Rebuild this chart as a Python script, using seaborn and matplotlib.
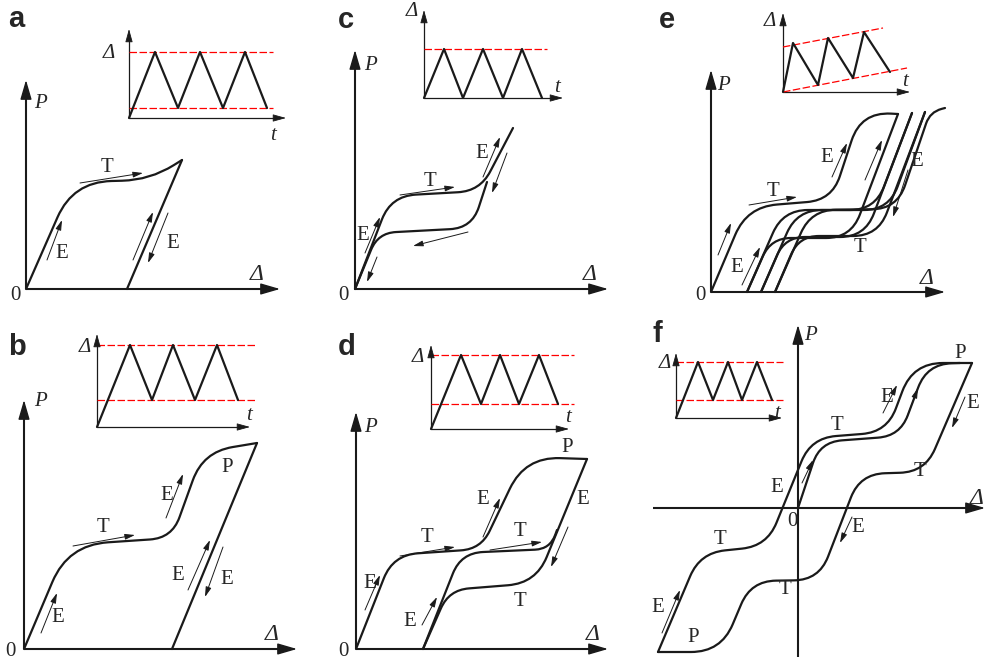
import numpy as np
import matplotlib
matplotlib.use("Agg")
import matplotlib.pyplot as plt
from matplotlib.path import Path
from matplotlib.patches import PathPatch
import seaborn as sns

W, H = 987, 662

# ---- panel a ----
a_origin = (26, 289)
a_axes = ((0, 254), (0, 209))
a_P, a_D, a_zero = (14, 186), (231, 14), (-11, -6)
a_curves = [[(0, 0), (47, 107), (124, 109), (156, 129)],
            [(156, 129), (101, 0)]]
a_radii = [[40, 28], []]
a_text = [("T", 81, 121), ("E", 36, 36), ("E", 147, 46)]
a_arrows = [(54, 106, 117, 116), (21, 29, 36, 69), (107, 29, 127, 77), (142, 76, 122, 26)]
a_in_origin = (129, 118)
a_in_axes = (157, 89)
a_in_D, a_in_t = (-20, 65), (144, -17)
a_wave_t = [0, 26, 49, 71, 94, 116, 138]
a_wave_d = [0, 66, 10, 66, 10, 66, 10]
a_levels = [[(0, 66), (144, 66)], [(0, 10), (144, 10)]]

# ---- panel b ----
b_origin = (24, 649)
b_axes = ((0, 273), (0, 249))
b_P, b_D, b_zero = (16, 247), (248, 14), (-14, -2)
b_curves = [[(0, 0), (44, 104), (148, 111), (179, 197), (233, 206)],
            [(233, 206), (148, 0)]]
b_radii = [[40, 22, 30], []]
b_text = [("T", 79, 122), ("E", 34, 31), ("E", 143, 154), ("P", 203, 181),
          ("E", 154, 74), ("E", 203, 69)]
b_arrows = [(49, 103, 111, 114), (17, 16, 33, 56), (142, 131, 159, 175),
            (164, 59, 186, 109), (199, 102, 181, 52)]
b_in_origin = (97, 427)
b_in_axes = (153, 93)
b_in_D, b_in_t = (-12, 80), (152, 12)
b_wave_t = [0, 33, 55, 76, 98, 120, 141]
b_wave_d = [0, 82, 27, 82, 27, 82, 27]
b_levels = [[(0, 82), (159, 82)], [(0, 27), (159, 27)]]

# ---- panel c ----
c_origin = (355, 289)
c_axes = ((0, 253), (0, 239))
c_P, c_D, c_zero = (15, 224), (235, 14), (-12, -7)
c_curves = [[(0, 0), (36, 93), (125, 98), (158, 161)],
            [(132, 107), (117, 61), (23, 56), (0, 0)]]
c_radii = [[25, 22], [22, 18]]
c_text = [("T", 75, 107), ("E", 8, 54), ("E", 127, 136)]
c_arrows = [(45, 94, 100, 102), (113, 57, 58, 43), (10, 36, 25, 72), (22, 32, 12, 7),
            (128, 112, 145, 152), (152, 136, 137, 96)]
c_in_origin = (424, 98)
c_in_axes = (139, 88)
c_in_D, c_in_t = (-12, 86), (133, 11)
c_wave_t = [0, 20, 39, 59, 79, 98, 118]
c_wave_d = [0, 49, 0, 49, 0, 49, 0]
c_levels = [[(0, 49), (123, 49)]]

# ---- panel d ----
d_origin = (356, 649)
d_axes = ((0, 252), (0, 237))
d_P, d_D, d_zero = (14, 222), (237, 14), (-13, -2)
d_curves = [[(0, 0), (37, 94), (125, 100), (169, 192), (231, 190)],
            [(231, 190), (180, 66), (93, 59), (67, 0)],
            [(67, 0), (105, 96), (194, 100), (201, 119)]]
d_radii = [[25, 20, 35], [28, 20], [22, 15]]
d_text = [("E", 14, 66), ("T", 71, 112), ("E", 127, 149), ("T", 164, 117), ("P", 211, 202),
          ("E", 227, 149), ("T", 164, 47), ("E", 54, 27)]
d_arrows = [(9, 39, 24, 74), (44, 93, 99, 102), (127, 112, 144, 151), (134, 99, 186, 107),
            (212, 122, 195, 82), (66, 24, 81, 52)]
d_in_origin = (431, 429)
d_in_axes = (138, 84)
d_in_D, d_in_t = (-13, 72), (137, 12)
d_wave_t = [0, 30, 50, 69, 88, 108, 127]
d_wave_d = [0, 74, 25, 74, 25, 74, 25]
d_levels = [[(0, 74), (143, 74)], [(0, 25), (143, 25)]]

# ---- panel e ----
e_origin = (711, 292)
e_axes = ((0, 234), (0, 222))
e_P, e_D, e_zero = (12, 207), (216, 14), (-11, -4)
e_curves = [[(0, 0), (36, 85), (121, 92), (150, 180), (187, 178)],
            [(187, 178), (140, 54), (60, 54), (36, 0)],
            [(36, 0), (72, 82), (164, 82), (201, 179)],
            [(201, 179), (154, 55), (74, 55), (50, 0)],
            [(50, 0), (86, 82), (178, 82), (214, 180)],
            [(214, 180), (167, 56), (88, 56), (64, 0)],
            [(64, 0), (100, 82), (186, 83), (219, 180), (234, 184)]]
e_radii = [[30, 25, 30], [25, 20], [25, 25], [25, 20], [25, 25], [25, 20], [25, 25, 12]]
e_text = [("T", 62, 100), ("E", 116, 135), ("E", 206, 130), ("T", 149, 45), ("E", 26, 24)]
e_arrows = [(38, 87, 86, 95), (121, 115, 136, 149), (154, 112, 171, 152),
            (197, 122, 182, 75), (31, 7, 49, 45), (7, 37, 20, 69)]
e_in_origin = (783, 92)
e_in_axes = (127, 79)
e_in_D, e_in_t = (-13, 70), (122, 10)
e_wave_t = [0, 10, 35, 45, 70, 81, 107]
e_wave_d = [0, 49, 7, 54, 14, 60, 20]
e_levels = [[(0, 45), (100, 64)], [(0, 0), (124, 24)]]

# ---- panel f ----
f_origin = (798, 508)
f_axes = ((-145, 187), (-149, 183))
f_P, f_D, f_zero = (12, 173), (179, 10), (-6, -14)
f_curves = [[(-140, -144), (-98, -45), (-31, -38), (13, 70), (89, 76), (115, 145), (174, 145)],
            [(174, 145), (127, 36), (62, 34), (21, -72), (-47, -73), (-77, -144), (-140, -144)],
            [(0, 0), (22, 66), (102, 72), (129, 144), (162, 145)]]
f_radii = [[25, 25, 25, 25, 30], [25, 25, 25, 25, 30], [22, 22, 25]]
f_text = [("E", 89, 110), ("E", 175, 105), ("T", 39, 83), ("T", 122, 36), ("E", -21, 20),
          ("E", 60, -19), ("T", -78, -32), ("T", -13, -82), ("E", -140, -99),
          ("P", -105, -130), ("P", 162, 155)]
f_arrows = [(85, 95, 99, 123), (109, 91, 120, 120), (167, 111, 154, 80), (4, 25, 15, 48),
            (54, -9, 42, -35), (-136, -125, -118, -82)]
f_in_origin = (676, 418)
f_in_axes = (106, 65)
f_in_D, f_in_t = (-11, 55), (101, 5)
f_wave_t = [0, 22, 37, 52, 66, 81, 96]
f_wave_d = [0, 56, 18, 56, 18, 56, 18]
f_levels = [[(0, 56), (107, 56)], [(0, 18), (107, 18)]]

letters = ["a", "b", "c", "d", "e", "f"]
letter_x = [16, 17, 346, 347, 667, 657]
letter_y = [19, 347, 20, 347, 20, 334]

sns.set_theme(style="white")
plt.rcParams["font.family"] = ["Liberation Serif", "DejaVu Serif"]


def rounded_path(pts, radii):
    pts = np.asarray(pts, float)
    n = len(pts)
    verts, codes = [pts[0]], [Path.MOVETO]
    for i in range(1, n - 1):
        p0, p1, p2 = pts[i - 1], pts[i], pts[i + 1]
        d1, d2 = p1 - p0, p2 - p1
        l1, l2 = np.hypot(*d1), np.hypot(*d2)
        r = min(radii[i - 1], l1 if i == 1 else l1 / 2, l2 if i == n - 2 else l2 / 2)
        verts += [p1 - d1 / l1 * r, p1, p1 + d2 / l2 * r]
        codes += [Path.LINETO, Path.CURVE3, Path.CURVE3]
    verts.append(pts[-1])
    codes.append(Path.LINETO)
    return Path(verts, codes)


def frame(fig, origin):
    ox, oy = origin
    ax = fig.add_axes([0, 0, 1, 1])
    ax.set_xlim(-ox, W - ox)
    ax.set_ylim(oy - H, oy)
    ax.set_axis_off()
    return ax


def arrow(ax, x0, y0, x1, y1, lw=0.7, hl=0.6, hw=0.17, ms=10):
    ax.annotate("", xy=(x1, y1), xytext=(x0, y0),
                arrowprops=dict(arrowstyle=f"-|>,head_length={hl},head_width={hw}",
                                lw=lw, color="k", shrinkA=0, shrinkB=0, mutation_scale=ms))


fig = plt.figure(figsize=(W / 100, H / 100), dpi=100)

panels = [
    (a_origin, a_axes, a_P, a_D, a_zero, a_curves, a_radii, a_text, a_arrows,
     a_in_origin, a_in_axes, a_in_D, a_in_t, a_wave_t, a_wave_d, a_levels),
    (b_origin, b_axes, b_P, b_D, b_zero, b_curves, b_radii, b_text, b_arrows,
     b_in_origin, b_in_axes, b_in_D, b_in_t, b_wave_t, b_wave_d, b_levels),
    (c_origin, c_axes, c_P, c_D, c_zero, c_curves, c_radii, c_text, c_arrows,
     c_in_origin, c_in_axes, c_in_D, c_in_t, c_wave_t, c_wave_d, c_levels),
    (d_origin, d_axes, d_P, d_D, d_zero, d_curves, d_radii, d_text, d_arrows,
     d_in_origin, d_in_axes, d_in_D, d_in_t, d_wave_t, d_wave_d, d_levels),
    (e_origin, e_axes, e_P, e_D, e_zero, e_curves, e_radii, e_text, e_arrows,
     e_in_origin, e_in_axes, e_in_D, e_in_t, e_wave_t, e_wave_d, e_levels),
    (f_origin, f_axes, f_P, f_D, f_zero, f_curves, f_radii, f_text, f_arrows,
     f_in_origin, f_in_axes, f_in_D, f_in_t, f_wave_t, f_wave_d, f_levels),
]

for (origin, axes, P, D, zero, curves, radii, texts, arrows,
     in_origin, in_axes, in_D, in_t, wave_t, wave_d, levels) in panels:
    ax = frame(fig, origin)
    (x0, x1), (y0, y1) = axes
    # main axes with arrow heads
    ax.plot([x0, x1 - 8], [0, 0], color="k", lw=1.5, solid_capstyle="butt")
    ax.plot([0, 0], [y0, y1 - 8], color="k", lw=1.5, solid_capstyle="butt")
    arrow(ax, x1 - 12, 0, x1, 0, lw=1.0, hl=1.2, hw=0.35, ms=10)
    arrow(ax, 0, y1 - 12, 0, y1, lw=1.0, hl=1.2, hw=0.35, ms=10)
    ax.text(*P, "P", style="italic", fontsize=15, ha="center", va="center")
    ax.text(*D, "Δ", style="italic", fontsize=17, ha="center", va="center")
    ax.text(*zero, "0", fontsize=15, ha="center", va="center")
    for pts, rr in zip(curves, radii):
        ax.add_patch(PathPatch(rounded_path(pts, rr), fill=False, lw=1.6, color="k",
                               capstyle="round", joinstyle="round"))
    for s, tx, ty in texts:
        ax.text(tx, ty, s, fontsize=15, ha="center", va="center")
    for ar in arrows:
        arrow(ax, *ar)

    # inset: loading history
    ia = frame(fig, in_origin)
    ix, iy = in_axes
    ia.plot([0, ix - 6], [0, 0], color="k", lw=0.9)
    ia.plot([0, 0], [0, iy - 6], color="k", lw=0.9)
    arrow(ia, ix - 8, 0, ix, 0, lw=0.6, hl=0.9, hw=0.25, ms=9)
    arrow(ia, 0, iy - 8, 0, iy, lw=0.6, hl=0.9, hw=0.25, ms=9)
    for (lx0, ly0), (lx1, ly1) in levels:
        ia.plot([lx0, lx1], [ly0, ly1], color="red", lw=0.9, linestyle=(0, (6, 2)))
    sns.lineplot(x=wave_t, y=wave_d, ax=ia, color="k", lw=1.6, sort=False,
                 estimator=None, legend=False)
    ia.set_axis_off()
    ia.set_xlim(-in_origin[0], W - in_origin[0])
    ia.set_ylim(in_origin[1] - H, in_origin[1])
    ia.text(*in_D, "Δ", style="italic", fontsize=15, ha="center", va="center")
    ia.text(*in_t, "t", style="italic", fontsize=15, ha="center", va="center")

for s, lx, ly in zip(letters, letter_x, letter_y):
    fig.text(lx / W, 1 - ly / H, s, fontsize=21, fontweight="bold",
             family="Liberation Sans", ha="center", va="center")

fig.savefig("out.png", dpi=100)
